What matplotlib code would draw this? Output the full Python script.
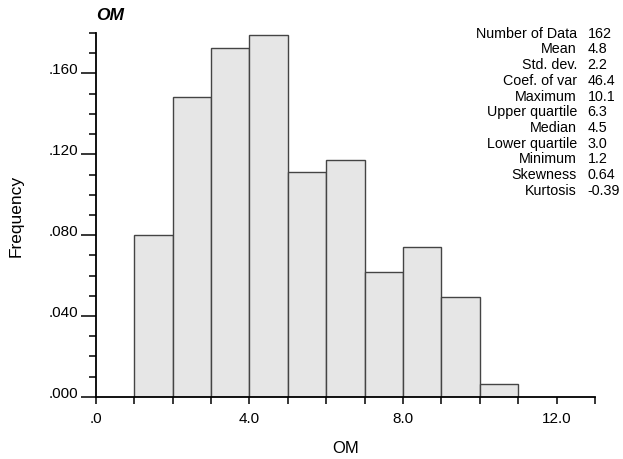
import matplotlib
matplotlib.use('Agg')
import matplotlib.pyplot as plt
from matplotlib.ticker import MultipleLocator, FixedLocator

plt.rcParams['font.family'] = ['Liberation Sans', 'DejaVu Sans']

# histogram of OM, bin width 1, relative frequencies (n = 162)
bin_edges = [1, 2, 3, 4, 5, 6, 7, 8, 9, 10, 11]
counts = [13, 24, 28, 29, 18, 19, 10, 12, 8, 1]
n_data = 162
freqs = [c / n_data for c in counts]

stat_names = ['Number of Data', 'Mean', 'Std. dev.', 'Coef. of var', 'Maximum',
              'Upper quartile', 'Median', 'Lower quartile', 'Minimum',
              'Skewness', 'Kurtosis']
stat_values = ['162', '4.8', '2.2', '46.4', '10.1', '6.3', '4.5', '3.0', '1.2',
               '0.64', '-0.39']

xticks = [0, 4, 8, 12]
xtick_labels = ['.0', '4.0', '8.0', '12.0']
yticks = [0.0, 0.04, 0.08, 0.12, 0.16]
ytick_labels = ['.000', '.040', '.080', '.120', '.160']

fig = plt.figure(figsize=(6.23, 4.6), dpi=100)
ax = fig.add_axes([0.154, 0.135, 0.801, 0.791])

ax.bar(bin_edges[:-1], freqs, width=1, align='edge',
       color='#e6e6e6', edgecolor='#444444', linewidth=1.0, zorder=2)

ax.set_xlim(0, 13)
ax.set_ylim(0, 0.18)

for s in ['top', 'right']:
    ax.spines[s].set_visible(False)
for s in ['left', 'bottom']:
    ax.spines[s].set_linewidth(1.3)
    ax.spines[s].set_color('black')

ax.xaxis.set_major_locator(FixedLocator(xticks))
ax.set_xticklabels(xtick_labels)
ax.xaxis.set_minor_locator(MultipleLocator(1))
ax.yaxis.set_major_locator(FixedLocator(yticks))
ax.set_yticklabels(ytick_labels)
ax.yaxis.set_minor_locator(MultipleLocator(0.01))

ax.tick_params(axis='x', which='both', direction='out', length=5, width=1.1,
               labelsize=11, pad=5)
ax.tick_params(axis='y', which='major', direction='out', length=11, width=1.1,
               labelsize=11, pad=2)
ax.tick_params(axis='y', which='minor', direction='out', length=5, width=1.1)
for lbl in ax.get_yticklabels():
    lbl.set_va('baseline')

ax.set_xlabel('OM', fontsize=12, labelpad=11)
ax.set_ylabel('Frequency', fontsize=12.5, labelpad=18)
ax.text(0.0, 1.03, 'OM', transform=ax.transAxes, fontsize=12.5,
        fontweight='bold', fontstyle='italic', ha='left', va='bottom')

# summary statistics block
y0 = 0.927
dy = 0.0342
for i, (name, val) in enumerate(zip(stat_names, stat_values)):
    fig.text(0.926, y0 - i * dy, name, ha='right', va='center', fontsize=10.3)
    fig.text(0.943, y0 - i * dy, val, ha='left', va='center', fontsize=10.3)

fig.savefig('out.png', dpi=100)
